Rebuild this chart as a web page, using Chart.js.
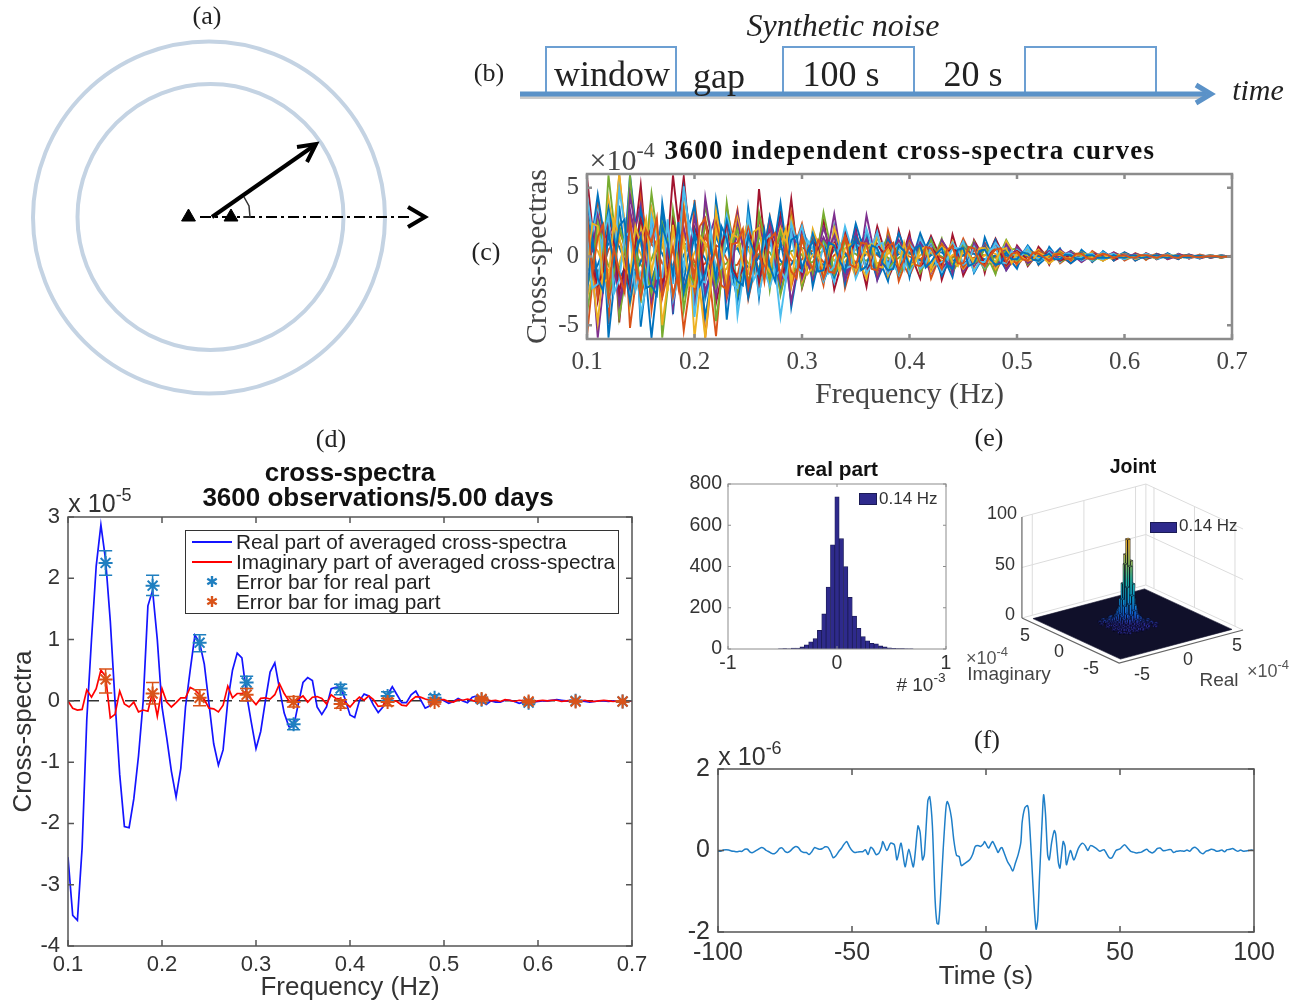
<!DOCTYPE html>
<html>
<head>
<meta charset="utf-8">
<title>Cross-spectra figure</title>
<script src="https://cdn.jsdelivr.net/npm/chart.js@4/dist/chart.umd.min.js"></script>
<style>
  html, body { margin: 0; background: #fff; }
  #page { position: relative; width: 1305px; height: 1005px; overflow: hidden; }
  #page canvas { position: absolute; }
  .t { position: absolute; white-space: nowrap; line-height: 1; color: #222; }
  .t sup { font-size: 0.72em; line-height: 0; position: relative; top: -0.1em; vertical-align: super; }
</style>
</head>
<body>
<div id="page"></div>
<script>
const SANS = '"Liberation Sans", Arial, sans-serif';
const SERIF = '"Liberation Serif", "Times New Roman", serif';

// panel (c): frequency ticks, and curves read at 0.005 Hz steps (x 1e-4)
const cFreq = Array.from({ length: 121 }, (_, i) => 0.1 + i * 0.005);
const cXTicks = [0.1, 0.2, 0.3, 0.4, 0.5, 0.6, 0.7];
const cYTicks = [-5, 0, 5];
const cColors = ["#D95319", "#0072BD", "#EDB120", "#4DBEEE", "#A2142F", "#77AC30", "#7E2F8E", "#D95319", "#0072BD", "#4DBEEE", "#EDB120", "#7E2F8E", "#77AC30", "#0072BD", "#D95319", "#A2142F", "#EDB120", "#0072BD", "#D95319", "#77AC30"];
const curve1 = [5.8,2.1,-3.2,-1.2,2.9,1.4,-4.8,-.6,3.1,1.9,5.2,.8,3.3,-1.1,-2.8,.7,5.9,2.4,5.8,1.6, -3.1,-.4,2.6,1.2,-3.4,-1.5,3.2,.5,-2.9,-1.2,2.4,-.6,4.9,1.3,-1.8,.9,3.1,1.1,4.2,.7, -2.3,-.9,1.8,.8,2.7,.4,-2.4,-1,1.9,.6,2.1,-.5,-2.2,.3,2.2,.9,-1.6,-.7,1.9,.4, 1.7,-.6,-1.6,.5,1.5,.6,-1.7,-.5,1.6,.3,-1.4,-.6,1.2,.5,-1.2,.4,1.3,.5,-.9,-.3, .8,.3,-.7,-.2,.7,.25,-.6,.2,.5,-.2,-.5,-.15,.4,.15,-.4,.1,.3,.12,-.3,-.1, .3,.1,-.3,-.08,.25,.06,-.2,.08,.2,-.05,-.2,.06,.15,.05,-.15,-.04,.1,.03,-.1,.02, .05];
const curve2 = [-5.8,-1.9,4,1.7,-4.9,1.1,5.9,2.2,-5.2,-2.1,4.2,1.5,-3.9,-.9,3.4,-1.2,-2.7,-1.4,-5.4,-2.5, 4.1,.9,-5.9,-2.3,-5.8,-1.4,3.6,1.5,3.4,.6,-3.1,-1.3,2.9,.7,2.8,-.6,-2.6,-1,3.2,1.2, 2.4,.7,-1.9,-.6,-2.1,.4,1.7,.8,-2.3,-.9,1.4,.5,1.8,-.4,-1.5,-.6,1.9,.5,-1.8,-.7, -1.4,-.5,1.5,.4,-1.6,-.6,1.2,.5,-1.3,.3,1.3,.5,-1.1,-.4,1,.4,-1.2,-.3,.8,.3, -.7,-.2,.6,.25,-.6,.2,.6,.2,-.5,-.2,.4,.15,-.4,-.1,.4,.15,-.3,-.1,.3,.1, -.3,-.1,.25,.08,-.25,.06,.2,.07,-.2,-.06,.2,.05,-.15,-.05,.15,.04,-.1,.03,.1,.02, -.05];
const curve3 = [3.9,1.6,4.5,2,-5.9,-2.2,3.7,.4,5.9,2.5,-5.1,-1.7,-5.9,-2.3,3.9,1.2,-4.2,.5,4.9,2.2, 3.8,-.6,-4.4,-2,4.1,1.5,-4.6,-1.1,-3.3,-1.4,3.6,.8,-3,.4,2.9,1.3,3.9,.9,-3.7,-1.4, 2.1,1,-2.2,-.5,-1.8,-.9,2.2,.3,-2,.5,2.4,1.1,1.7,-.3,-1.7,-.8,-1.8,.4,1.7,.7, -1.5,.4,1.7,.7,1.3,-.4,-1.4,-.6,-1.5,.3,1.1,.5,-1.2,-.5,1.4,.4,1.2,-.3,-1,-.4, -.9,.2,.8,.3,-.6,-.25,.7,.2,.6,-.15,-.5,-.2,.5,.15,-.4,-.1,.4,.12,-.3,.1, .3,.1,-.3,-.1,.2,.07,-.2,-.06,.25,.05,-.2,.04,.15,-.05,-.15,.04,.1,.03,-.1,-.02, .05];
const curve4 = [-4.1,-1.5,2.7,-.4,5.9,2.4,-4.4,-2,5.9,1.5,-3.4,.6,4.6,1.8,-5.9,-2.4,3.4,.9,-3.9,-1.2, -2.9,.5,3.7,1.7,-4.7,-1.8,3.9,1,-2.6,-.5,-2.7,-1.2,3.2,1.4,-2.4,.5,-2.8,-1.1,2.7,.6, -2.2,-.8,1.6,.5,3.2,1.3,-1.6,-.4,-1.4,.3,1.6,.8,-1.3,-.5,1.4,.6,1.5,-.3,-1.4,-.5, 1.2,.5,-1.2,-.4,1.2,.3,1.3,-.4,-1.1,-.5,1,.4,1.1,-.3,-1,-.4,-1.3,.3,1.2,.5, .6,.25,-.6,-.2,.5,.2,-.5,.15,-.4,-.2,.4,.15,.3,-.1,-.3,-.12,-.3,.1,.25,.1, -.2,-.08,.2,.06,-.2,-.07,.2,.05,-.15,.04,.15,.06,.1,-.03,.1,.03,-.1,-.02,-.1,.02, 0];
const curve5 = [3.3,-.7,-5.9,-2.4,3.8,1.6,-3.5,-1.9,4.5,2.1,3.8,.5,-3.2,-1.6,3,1.3,-3.7,-.8,3,1.5, -3.6,-1.3,4.3,1.8,3,-.4,-3.1,-1.3,3.1,1.1,-2.5,.6,-2.3,-1,2.4,1.1,2.5,-.4,-3.3,-1.2, 1.9,.7,-1.5,.4,2.1,.9,3.1,.7,-1.7,-.7,1.8,.3,3,1.1,-1.7,-.4,1.4,.6,-1.3,.3, 1.4,.5,1.2,-.4,-1.2,-.5,1.2,.6,-1.2,.3,-1.1,-.5,1,.4,.9,-.3,1,.4,-1,-.4, .7,.3,-.5,-.2,.5,.15,-.4,-.2,.5,.2,.4,-.1,-.4,-.15,.3,.12,-.2,.1,.3,.1, -.2,.05,.2,.08,-.15,-.06,.2,.05,-.2,-.07,.2,.06,-.15,.04,.1,.04,-.1,-.03,.1,.02, 0];
const curve6 = [-3,-1.4,-4.8,-.9,4.2,1.8,6,2.3,-3.6,-1.3,2.4,-.7,3.4,1.6,-5,-2,2.3,1,3.8,.6, -5.9,-2.4,-5.9,-1.8,3.3,1,-2.6,.7,2.8,1.3,2.6,-.5,-2.1,-1.1,-2,.4,2.1,1,2.7,.5, -1.8,-.7,2,.9,-1.7,-.3,2.1,.8,1.4,-.4,-1.5,-.7,-1.6,.3,1.5,.6,-1.4,-.5,1.1,.4, -1,.3,.9,.4,-1.1,-.4,.9,.3,1.1,-.3,-.9,-.4,-.8,.3,.8,.4,-.9,-.3,1.1,.5, -.5,-.2,.5,.2,.5,-.15,-.5,-.2,.4,.15,-.3,.1,.3,.12,.3,-.1,-.3,-.1,-.2,.08, .2,.07,-.2,-.06,.15,-.05,-.15,.05,.15,.04,-.1,-.04,-.1,.03,.1,.03,.1,-.02,-.05,.02, 0];
const curve7 = [4.4,1.8,3.3,-1,-3.4,-1.7,4.9,2.3,-2.8,.7,-4.2,-2.2,2.9,1.2,2.6,-.6,-3.2,-1.5,5.1,1.9, -4.4,-1.1,-3.1,-1.6,-2.6,.8,3,1.4,-4.3,-1.6,2.9,.4,-2.7,-.9,-2.2,-.9,-4.4,-1.7,2.4,1.1, 2.2,.4,1.7,-.5,-1.8,-.8,-1.9,.3,2.2,.9,-1.6,-.6,2,.7,1.8,-.3,-1.2,-.5,-1.3,.4, -1.2,-.4,1.3,.5,.9,-.3,-1.1,-.4,1,.4,1.1,-.2,-1.1,-.4,-.8,.2,1,.5,.8,-.3, .5,.2,.7,-.2,-.4,-.15,.5,.2,-.4,.1,.3,.12,-.3,-.1,-.3,.1,.3,.1,.2,-.08, -.2,-.05,-.15,.06,.2,.07,-.15,-.05,.15,.05,.15,-.04,-.1,-.03,-.1,.03,.1,.03,.1,.02, 0];
const curve8 = [2.4,-.8,-2.1,-1.1,2.2,.9,-2.6,-.7,-2.3,1,2.7,1.1,2.1,-.6,-1.9,-1,2.6,.8,-2.4,-.9, 2.1,1,-1.8,-.5,1.9,.7,2.1,-.7,-1.7,-.9,1.8,.9,-1.9,.5,1.6,.7,-1.6,-.6,1.5,.3, -1.3,.4,1.1,.6,-1.2,-.5,1,.3,-.9,.4,1,.5,-1.1,-.4,.9,.3,.8,-.3,-.8,-.4, .7,.3,-.8,-.3,.7,.2,-.6,.3,.7,.3,-.6,-.2,.6,.2,-.5,.2,.5,.2,-.6,-.2, .4,.15,-.3,-.1,.3,.1,.3,-.1,-.3,-.12,.2,.08,-.2,.06,.2,.08,.15,-.05,-.15,-.05, .1,.04,-.1,.03,-.1,-.04,.1,.03,-.1,.02,.1,.03,-.05,.02,.05,.02,.05,-.02,-.05,.02, 0];
const curve9 = [-2.2,-.9,2.5,1,-2.6,-1.2,2.3,.6,-1.9,.8,-2.4,-1,-2.7,-.4,2.4,1.1,2,-.5,-2.9,-1.3, -2,.6,2.3,.8,-2.2,-1,1.8,.9,2,-.6,-1.7,-.7,1.6,.7,-1.7,.4,1.8,.5,-1.5,-.6, 1.2,.5,-1.2,.3,1.1,.5,-1.3,-.5,1.2,.2,-1,-.4,.9,.4,-1,.3,-.9,-.4,.9,.3, -.9,-.3,.7,.3,-.8,.2,.7,.3,-.6,-.3,.7,.2,-.5,-.2,.6,.3,-.6,.2,.4,.2, -.3,-.1,.4,.15,-.3,.1,.2,.1,.3,-.1,-.2,-.1,.2,.08,-.2,.07,-.15,-.05,.15,.05, -.1,-.04,.1,.03,.1,-.03,-.1,.03,.1,.03,-.1,-.02,.05,.02,-.05,.02,.05,.02,.05,-.02, 0];
const curve10 = [1.9,.5,3,1.3,1.6,-.7,-3.1,-1.5,3.4,1.2,1.7,-.5,-2.4,-1.1,-2.8,.6,1.8,.9,2.1,.3, 2.8,1.2,-2.6,-1.1,-2.9,.5,-2.1,-1,2.4,.8,-2.2,.4,2.1,1,1.9,-.4,-1.9,-.8,1.8,.7, -1.6,-.4,-1.5,.5,1.4,.6,1.5,-.3,-1.3,-.5,1.2,.5,1.3,.2,-1.1,-.4,-1,.4,1.2,.5, -.8,-.3,1,.4,.8,-.2,-.9,-.4,-.8,.3,.7,.3,-.7,-.2,.7,.2,-.7,-.3,.9,.3, .4,-.15,-.4,-.15,-.3,.1,.4,.15,-.3,-.1,.3,.1,.2,-.08,-.2,-.08,.2,.07,-.15,.05, .15,.05,.1,-.03,-.15,-.05,.1,.04,.1,-.03,-.1,-.03,.1,.03,-.05,.02,-.05,-.02,.05,.02, 0];
const curve11 = [-1.7,-.8,-2.9,.7,-3.2,-1.4,1.8,.9,2.8,-.6,-3,-1.2,1.6,.8,-2.1,.5,-2.9,-1.1,1.6,.7, -2.5,-1,1.5,.5,2.4,1,-2.8,-.9,-1.4,.4,2.1,.9,-1.6,-.6,2,.4,1.4,.7,-2.2,-.7, 1.5,.5,1.3,-.3,-1.6,-.6,-1.1,.4,1.5,.5,-1.2,-.3,1.1,.4,-1.2,.2,1,.4,-.9,-.4, 1.1,.3,-.9,-.4,-.9,.3,.9,.3,.8,-.2,-.8,-.3,.6,.3,-.7,.2,.7,.2,-.7,-.3, -.5,.2,.3,.1,.4,.15,-.3,-.1,.3,.1,-.3,.1,-.2,-.08,.2,.08,-.2,.06,.2,.06, -.1,.04,-.1,-.03,.1,.04,-.1,.03,-.1,-.03,.1,.03,-.05,.02,.05,.02,.05,-.02,-.05,.02, 0];
const curve12 = [2.9,1.2,-1.8,.6,3.5,1.5,-1.6,-.9,-3.3,-1.1,3.3,1.4,-1.9,-.4,3.2,.9,-1.5,-.8,-1.8,.5, 1.7,.7,-2.9,-1.2,1.5,.4,2.6,1,1.4,-.5,-3,-1.1,1.5,.8,-1.2,-.5,-2.1,.4,1.9,.8, -1.4,-.5,1.6,.5,1.2,-.3,-1.5,-.6,-1.1,.3,1.4,.6,-1,-.3,-1,-.4,1.2,.5,-1.1,.2, .9,.3,1,.4,-.8,-.3,-.7,.3,.7,.2,-.6,-.2,.5,.2,.8,-.2,-.6,-.3,.6,.2, .3,.1,.3,-.1,-.3,-.1,.3,.1,-.3,.1,.2,.08,.3,-.1,-.2,-.07,.2,.07,-.2,.05, .15,.05,-.1,.04,.1,-.03,.15,.05,-.1,-.03,-.15,.04,.1,.03,.05,-.02,-.05,.02,.05,.02, 0];
const curve13 = [1.2,.9,.4,-.6,-1,-1.4,-.5,.8,1.3,1,.2,-.9,-1.5,-.7,.9,1.2,.6,-.4,-1.1,-.8, .3,.9,1,.4,-.6,-1.1,-.9,.3,.8,1,.5,-.3,-.8,-1,-.4,.5,.9,.7,.2,-.5, -.8,-.6,.1,.6,.7,.3,-.3,-.6,-.4,.2,.5,.6,.2,-.3,-.5,-.3,.2,.5,.3,-.1, -.4,-.4,.1,.4,.3,-.1,-.3,-.3,.1,.3,.3,0,-.2,-.3,.1,.3,.2,-.1,-.2,-.1, .1,.2,.1,-.1,-.1,-.1,.1,.1,.1,0,-.1,-.1,.05,.1,.05,-.05,-.1,0,.05,.05, 0,-.05,-.03,.02,.03,.02,-.02,-.03,0,.02,.02,-.01,-.02,0,.01,.01,0,-.01,0,.01, 0];
const curve14 = [-.8,-1.3,-.6,.4,.9,1.4,.7,-.3,-1,-1.2,-.4,.7,1.1,.9,.2,-.7,-1.2,-.8,.1,.9, 1,.5,-.2,-.8,-.9,-.2,.6,1,.6,-.2,-.8,-.7,0,.7,.9,.4,-.3,-.7,-.6,.1, .6,.6,.1,-.5,-.6,-.1,.5,.6,.2,-.3,-.5,-.2,.3,.5,.2,-.2,-.4,-.2,.2,.4, .3,-.1,-.3,-.3,.1,.3,.3,0,-.3,-.2,.1,.2,.2,-.1,-.2,-.2,.1,.2,.1,-.1, -.1,-.1,.1,.1,.05,-.05,-.1,-.05,.05,.1,.05,-.05,-.05,0,.05,.05,0,-.05,-.03,.02, .03,.02,-.02,-.02,.01,.02,.01,-.01,-.02,0,.01,.01,0,-.01,0,.01,0,-.01,0,.01, 0];
const curve15 = [.4,-.5,-1.1,-.7,.5,1,1.2,.2,-.8,-1,-.3,.6,.9,.4,-.5,-.9,-.6,.3,1,.7, -.4,-.8,-.5,.3,.8,.6,-.2,-.7,-.6,.2,.7,.6,-.1,-.6,-.5,.2,.6,.3,-.3,-.5, -.2,.4,.4,.1,-.4,-.4,.1,.4,.3,-.1,-.4,-.2,.2,.3,.1,-.2,-.3,-.1,.2,.2, 0,-.2,-.2,.1,.2,.1,-.1,-.2,0,.2,.1,-.1,-.1,0,.1,.1,0,-.1,-.1,.05, .1,.05,-.05,-.05,.05,.05,-.02,-.05,0,.05,.03,-.03,-.03,.02,.03,0,-.02,-.02,.01,.02, 0,-.02,-.01,.01,.01,0,-.01,-.01,.01,.01,0,-.01,0,.01,0,-.01,0,.01,0,0, 0];
const curve16 = [-.3,.7,1.5,.6,-.7,-1.2,-.9,.5,1.4,.5,-.6,-1.1,-.2,.9,.8,-.3,-.9,-.3,.8,.3, -.7,-.4,.7,.8,.1,-.7,-.5,.4,.6,.2,-.5,-.7,.2,.6,.3,-.4,-.6,-.1,.4,.5, .1,-.5,-.4,.2,.4,.2,-.3,-.4,0,.3,.2,-.2,-.3,0,.3,.3,-.1,-.3,-.1,.2, .2,0,-.2,-.1,.1,.2,0,-.2,-.1,.1,.1,-.1,-.1,.1,.1,0,-.1,-.1,.05,.1, 0,-.05,-.05,.05,.05,0,-.05,-.02,.03,.03,-.01,-.03,-.01,.02,.02,-.01,-.02,0,.01,.01, 0,-.01,-.01,.01,.01,0,-.01,0,.01,0,-.01,0,0,.01,0,-.01,0,0,0,0, 0];
const curve17 = [3.1,-1.2,1.4,2.3,-2.4,.6,-1.2,-2.6,2.6,-.4,-2.2,1.9,1,2.8,-3,-1.3,.7,-2.2,3.4,.5, -1.4,2.2,2.8,-.7,.6,-2.1,-2.4,.9,1,2,-2.2,-.3,.8,-1.8,1.3,1.7,-1.7,.8,-1.1,-1.6, 1.3,-.2,-.9,1.2,.7,-1.1,-1.2,.2,1.4,-.6,-.8,1,.9,-.9,-1,.2,.7,1,-1.1,-.2, .8,-.6,-.7,.7,.6,-.1,-.9,.5,.7,-.5,-.5,.7,.6,-.4,-.7,.1,.5,.6,-.4,.2, .3,-.2,-.3,.3,.2,-.05,-.3,.15,.2,-.15,-.2,.2,.2,-.1,-.2,.05,.2,.1,-.1,.05, .1,-.05,-.1,.1,.1,0,-.1,.05,.1,-.05,-.1,.05,.05,-.03,-.05,0,.03,.02,-.03,0, 0];
const curve18 = [-2.7,1.3,-1.6,-2.5,1.8,-.5,2.2,2.7,-1.9,.3,1.4,-2.3,-2.1,-2.8,2.2,.9,-1.4,2.5,-2.6,-.8, 1.7,-2.1,-1.2,.8,-1.7,2.2,1.3,-1.1,-1.8,-2.1,1.5,.4,-1.3,1.9,-.7,-1.8,1.1,-.9,1.2,1.5, -.9,.3,1.2,-1.1,-1,1,.8,-.3,-1.1,.7,1.1,-1,-.7,.8,.6,-.5,-1,-.9,.8,.4, -.7,.6,.8,-.8,-.4,.2,.6,-.6,-.9,.5,.6,-.7,-.5,.4,.5,-.2,-.6,-.5,.3,-.2, -.2,.3,.2,-.25,-.3,.05,.2,-.2,-.2,.15,.1,-.15,-.2,.1,.1,-.1,-.1,-.1,.1,-.05, -.1,.05,.1,-.1,-.05,.02,.1,-.05,-.1,.04,.05,-.05,-.05,.03,.05,-.02,-.03,-.02,.03,0, 0];
const curve19 = [-1.3,2.4,2.2,-1.9,-1.6,2.6,1.5,-.8,-1.4,2.2,.9,2.7,-1.2,1.1,1.7,-2.5,2.3,-1.5,1.2,-2.1, -2.2,1.5,.9,-2.2,2,.4,-1.9,1.6,1.4,-.6,-1.2,1.8,2.1,-.4,-1.1,1,.6,2,-2,.9, .6,-1.3,-.8,.3,-1.1,.7,.9,-1.1,.6,.9,-1,-.2,.7,.9,-.7,-.8,.6,-.3,-.7,1, -.6,-.5,.5,.7,-.8,.1,.7,.4,-.4,-.7,.5,.2,-.5,.6,.6,-.4,-.4,.5,.6,-.5, .3,-.1,-.3,-.2,.3,.1,-.2,.2,.2,-.1,-.2,.1,.2,-.15,-.1,.1,.2,-.1,-.1,.1, -.1,0,.1,.05,-.1,.05,.1,-.05,-.05,.05,.05,-.03,-.05,.03,.05,-.02,-.03,.02,.02,-.02, 0];
const curve20 = [1.6,-2.3,-2,1.5,3,-2.7,-1.7,1.4,1.8,-2.5,-1.2,-2.4,2.4,-1.6,-1.5,2.7,-2,1.9,-.9,2.4, 1.1,-1.7,-1.9,2,-1.2,-.8,1.6,-2,-2.3,.5,1.7,-1.7,-1,1.1,1.6,-1.4,-1,-1.7,1.8,-.8, -1.1,1.2,.6,-.9,.8,-1.2,-.7,.9,-.9,-.7,.9,.7,-1.2,-.6,.8,1,-.8,.6,.9,-.9, .9,.4,-.9,-.5,.7,-.6,-.4,-.2,.6,.6,-.6,-.3,.7,-.4,-.4,.5,.7,-.4,-.5,.4, -.2,.15,.4,.1,-.2,-.1,.3,-.15,-.2,.2,.2,-.05,-.1,.15,.2,-.1,-.2,.1,.2,-.1, .1,.05,-.1,-.05,.1,-.05,-.05,.05,.1,-.05,-.05,.03,.05,-.03,-.03,.02,.03,-.02,-.02,.02, 0];
const cCurves = [curve17, curve18, curve19, curve20, curve8, curve9, curve10, curve11, curve12, curve7, curve6, curve5, curve4, curve3, curve2, curve1, curve13, curve14, curve15, curve16];

// panel (d): averaged cross-spectra at 0.005 Hz steps (x 1e-5)
const dFreq = Array.from({ length: 121 }, (_, i) => 0.1 + i * 0.005);
const dXTicks = [0.1, 0.2, 0.3, 0.4, 0.5, 0.6, 0.7];
const dYTicks = [-4, -3, -2, -1, 0, 1, 2, 3];
const realPart = [-2.55,-3.5,-3.58,-2.4,-.3,1,2.2,2.87,2.3,1.3,0,-1.2,-2.05,-2.07,-1.6,-.9,0,1.55,1.8,1, -.1,-.6,-1.15,-1.57,-1.1,-.1,.5,1.07,.95,.6,-.05,-.7,-1.05,-.8,0,.5,.78,.7,.1,-.35, -.78,-.5,0,.47,.62,.2,-.2,-.42,-.42,-.05,.3,.38,.33,-.1,-.22,-.1,.2,.22,.22,.02, -.23,-.27,0,.11,.08,-.07,-.19,-.1,.1,.23,.1,-.03,-.03,.1,.16,.02,-.12,-.08,.08,.04, 0,-.04,-.01,.04,0,-.03,.06,.08,-.01,-.06,0,-.02,-.02,.01,.01,-.01,-.04,-.02,-.05,-.02, -.01,0,0,.01,.02,.01,0,-.01,-.01,0,-.01,-.02,-.01,0,0,-.01,0,-.01,0,0, 0];
const imagPart = [0,-.12,-.15,-.14,.18,.06,.2,.5,.4,-.28,-.22,.16,-.05,-.1,-.02,-.18,-.15,-.17,.15,-.25, .2,-.02,-.1,-.03,.05,.05,.22,.18,.1,.02,-.12,-.13,-.18,-.07,.24,.05,.12,.12,.15,.03, -.06,.04,.05,.03,.1,.28,.12,0,-.02,.03,.08,-.02,.06,.07,.04,-.05,.1,.04,.03,-.03, -.1,-.01,.06,.01,.08,.02,-.09,-.08,.04,.01,-.01,-.07,-.08,.01,.07,.06,.03,.01,.04,.02, .02,-.01,-.02,.02,.01,.03,.01,-.02,.01,.02,0,.01,-.01,.02,.01,-.01,.01,0,-.02,-.01, 0,.01,0,.01,.01,-.01,0,.01,-.01,0,.01,-.01,-.01,0,.01,0,-.01,0,.01,0, 0];
const barFreq = [0.14, 0.19, 0.24, 0.29, 0.34, 0.39, 0.44, 0.49, 0.54, 0.59, 0.64, 0.69];
const realMean = [2.25, 1.88, .95, .3, -.38, .2, .08, .05, .02, -.03, 0, -.01];
const realLow = [2.05, 1.72, .8, .2, -.47, .1, 0, 0, -.03, -.06, -.01, -.02];
const realHigh = [2.45, 2.05, 1.08, .4, -.3, .27, .15, .1, .06, 0, .01, 0];
const imagMean = [.35, .12, .05, .1, -.02, -.05, -.02, -.02, .03, -.01, -.01, -.01];
const imagLow = [.13, -.05, -.08, 0, -.1, -.12, -.08, -.05, 0, -.03, -.02, -.02];
const imagHigh = [.52, .3, .18, .2, .07, .02, .04, .02, .06, .01, 0, 0];

// panel (e) left: histogram at 0.14 Hz (x 1e-3)
const histCenters = [-.52,-.48,-.44,-.4,-.36,-.32,-.28,-.24,-.2,-.16,-.12,-.08,-.04,0,.04,.08,.12,.16,.2,.24,.28,.32,.36,.4,.44,.48,.52,.56,.6,.64,.68];
const histCounts = [1,2,1,4,5,10,20,35,50,90,170,300,505,738,535,400,250,160,100,60,40,28,25,15,10,6,3,2,2,1,1];
const histXTicks = [-1, 0, 1];
const histYTicks = [0, 200, 400, 600, 800];

// panel (e) right: joint 2D histogram (x 1e-4), rows by imaginary, columns by real
const jointRe = [-2,-1.75,-1.5,-1.25,-1,-.75,-.5,-.25,0,.25,.5,.75,1,1.25,1.5];
const jointIm = [-1.5,-1.25,-1,-.75,-.5,-.25,0,.25,.5,.75,1,1.25,1.5,1.75,2];
const jointCounts = [
  [0,0,2,0,0,1,0,3,0,1,0,0,2,0,0],
  [0,1,0,0,2,0,3,1,2,0,3,0,0,1,0],
  [2,0,0,3,1,4,2,4,3,5,1,2,0,0,1],
  [0,0,3,2,4,3,6,8,5,3,4,1,0,2,0],
  [0,1,0,4,5,9,12,16,12,6,3,2,1,0,0],
  [1,0,2,3,8,13,22,30,20,10,7,2,0,1,0],
  [0,2,1,5,10,20,38,58,40,15,8,4,2,0,1],
  [0,0,3,6,12,26,60,84,62,24,11,5,1,0,0],
  [1,0,2,4,9,18,40,68,38,16,9,3,2,0,0],
  [0,2,0,3,7,13,24,32,22,11,6,4,0,1,0],
  [0,0,1,2,5,8,13,17,11,7,5,1,2,0,0],
  [1,0,0,3,2,4,7,6,5,3,2,3,0,0,1],
  [0,0,2,0,3,2,3,4,2,3,1,0,1,0,0],
  [0,1,0,0,1,3,0,2,1,0,2,0,0,1,0],
  [0,0,0,1,0,0,2,0,0,1,0,0,1,0,0],
];

// panel (f): stacked trace (x 1e-6)
const fTime = [-100,-99,-98,-97,-96,-95,-94,-93,-92,-91,-90,-89,-88,-87,-86,-85,-84,-83,-82,-81,-80,-79,-78,-77,-76,-75,-74,-73,-72,-71,-70,-69,-68,-67,-66,-65,-64,-63,-62,-61,-60,-59,-58,-57,-56,-55,-54,-53,-52,-51,-50,-49,-48,-47,-46,-45,-44,-43,-42,-41,-40,-39,-38.5,-37,-35.6,-34.2,-33.2,-31.7,-30.2,-28.8,-27.1,-25.4,-24.6,-23.7,-23,-21.7,-21,-20,-19,-18.3,-17.7,-17,-16,-15,-14.5,-13.8,-12.9,-12,-11,-10,-9.2,-8,-6,-5,-4,-3,-2,-1,-.5,.5,1,2,2.5,4,4.5,5.5,6,7,8,9,10,11,12,13,13.5,14.5,15.5,16,17,18,18.7,19.3,20,21,21.5,22.2,23,23.6,24.5,25.5,26,27,27.6,28.8,29.5,30,31.5,32.8,34.5,36,37,38,39,41,42.5,44,46,47,48.5,50,51.7,53,54,55,56,57,58,59,60,61,62,63,64,65,66,67,68,69,70,71,72,73,74,75,76,77,78,79,80,81,82,83,84,85,86,87,88,89,90,91,92,93,94,95,96,97,98,99,100];
const fValue = [-.02,-.02,.01,.02,.01,-.01,-.02,-.03,-.02,-.02,.03,.03,-.04,-.05,-.01,.03,.07,.06,0,-.03,-.07,-.08,-.03,.05,.06,-.02,-.05,-.01,.06,.1,.07,-.02,-.05,-.05,-.1,-.03,.07,.05,.03,.05,.09,.08,-.03,-.18,-.13,-.03,.05,.15,.22,.1,0,-.05,-.04,-.03,-.03,.02,-.1,.08,.02,-.1,-.07,.08,.22,0,.18,.14,-.23,.18,-.4,.03,-.4,.6,.45,-.23,-.1,1.22,1.32,.6,-1.2,-1.78,-1.8,-1.2,0,1,1.2,1.1,.8,.25,-.12,-.15,-.37,-.32,-.22,-.1,.1,.12,.1,.16,.22,.1,.06,.18,.22,.02,-.05,.06,.07,-.1,-.27,-.38,-.5,-.3,-.1,.2,.7,1.05,1.1,.9,-.2,-1.4,-1.93,-1.7,-.6,.8,1.37,.9,-.1,-.23,.2,.49,.4,-.3,-.43,.22,.1,-.35,0,-.23,.06,.18,.12,0,.12,.06,-.02,.02,-.18,-.18,0,.04,.14,.05,-.02,-.04,-.06,-.05,-.04,0,.03,-.03,-.06,-.02,.05,.06,0,0,.02,.02,-.05,-.02,-.01,-.01,-.02,.01,-.02,.05,.08,.03,-.05,-.08,-.02,0,.03,.02,-.02,-.01,.01,-.03,.02,.03,.05,.01,-.02,.01,-.02,-.01,0,.01,0];
const fXTicks = [-100, -50, 0, 50, 100];
const fYTicks = [-2, 0, 2];

// schematic (a) and (b), in page units
const outerRing = [{ x: 209, y: 217.5, r: 176 }];
const innerRing = [{ x: 210.5, y: 217, r: 133 }];
const stations = [{ x: 188.5, y: 217 }, { x: 231, y: 217 }];
const baseline = [[200, 217], [410, 217]];
const baseHead = [[408, 207], [425, 217], [408, 227]];
const rayLine = [[212, 217], [315, 145]];
const rayHead = [[297, 147], [316, 144], [307, 162]];
const angleArc = [[244, 197], [249, 206], [250, 217], [243, 217]];
const timeAxis = [[520, 94], [1206, 94]];
const timeHead = [[1196, 85], [1211, 94], [1196, 103]];
const windows = [[546, 676], [783, 914], [1025, 1156]];
const windowTop = 47;

const page = document.querySelector("#page");

const addText = (html, x, y, style = {}, anchor = "center") => {
  const el = document.createElement("div");
  el.className = "t";
  el.innerHTML = html;
  el.style.left = x + "px";
  el.style.top = y + "px";
  el.style.transform = anchor === "left" ? "translateY(-50%)" : "translate(-50%,-50%)";
  Object.assign(el.style, style);
  page.appendChild(el);
  return el;
};

const addCanvas = (left, top, width, height) => {
  const canvas = document.createElement("canvas");
  canvas.width = width;
  canvas.height = height;
  canvas.style.left = left + "px";
  canvas.style.top = top + "px";
  page.appendChild(canvas);
  return canvas;
};

// box with inward ticks on all four sides, matlab style
const framePlugin = (color, width, tick) => ({
  id: "frame",
  afterDatasetsDraw(chart) {
    const { ctx, chartArea: a, scales } = chart;
    ctx.save();
    ctx.strokeStyle = color;
    ctx.lineWidth = width;
    ctx.strokeRect(a.left, a.top, a.right - a.left, a.bottom - a.top);
    ctx.beginPath();
    scales.x.ticks.forEach((t) => {
      const px = scales.x.getPixelForValue(t.value);
      ctx.moveTo(px, a.top);
      ctx.lineTo(px, a.top + tick);
      ctx.moveTo(px, a.bottom);
      ctx.lineTo(px, a.bottom - tick);
    });
    scales.y.ticks.forEach((t) => {
      const py = scales.y.getPixelForValue(t.value);
      ctx.moveTo(a.left, py);
      ctx.lineTo(a.left + tick, py);
      ctx.moveTo(a.right, py);
      ctx.lineTo(a.right - tick, py);
    });
    ctx.stroke();
    ctx.restore();
  },
});

// makes a panel whose plot area lands exactly on box
const addPanel = (box, pad, spec) => {
  const canvas = addCanvas(box.left - pad.l, box.top - pad.t, box.width + pad.l + pad.r, box.height + pad.t + pad.b);
  const axisCommon = (ticks, title, side, range) => ({
    type: "linear",
    offset: false,
    min: range ? range[0] : ticks[0],
    max: range ? range[1] : ticks[ticks.length - 1],
    afterBuildTicks: (scale) => {
      scale.ticks = ticks.map((value) => ({ value }));
    },
    afterFit: (scale) => {
      if (side === "x") scale.height = pad.b;
      else scale.width = pad.l;
      // no room for overhanging labels, the plot box is fixed
      scale.paddingTop = scale.paddingBottom = scale.paddingLeft = scale.paddingRight = 0;
    },
    border: { display: false },
    grid: { display: false, drawTicks: false },
    ticks: {
      autoSkip: false,
      maxRotation: 0,
      color: spec.color,
      font: { family: spec.family, size: spec.tickSize },
      padding: side === "x" ? spec.padX : spec.padY,
      callback: spec[side + "Format"],
    },
    title: title
      ? { display: true, text: title, color: spec.color, padding: 0, font: { family: spec.family, size: spec.titleSize } }
      : { display: false },
  });
  return new Chart(canvas, {
    type: spec.type || "scatter",
    data: { datasets: spec.datasets },
    options: {
      responsive: false,
      animation: false,
      events: [],
      devicePixelRatio: 1,
      layout: { autoPadding: false, padding: { top: pad.t, right: pad.r } },
      plugins: { legend: { display: false }, tooltip: { enabled: false } },
      scales: {
        x: axisCommon(spec.xTicks, spec.xTitle, "x"),
        y: axisCommon(spec.yTicks, spec.yTitle, "y", spec.yRange),
      },
    },
    plugins: [framePlugin(spec.frameColor, spec.frameWidth, spec.tick)],
  });
};

const pairs = (xs, ys) => ys.map((y, i) => ({ x: xs[i], y }));
const toPoints = (list) => list.map(([x, y]) => ({ x, y }));

const pathSet = (list, color, width, extra = {}) => ({
  type: "scatter",
  data: toPoints(list),
  showLine: true,
  borderColor: color,
  borderWidth: width,
  pointRadius: 0,
  fill: false,
  ...extra,
});

// error bars as one gappy line: stem plus two caps per point
const errorSegments = (xs, low, high, cap) =>
  xs.flatMap((x, i) => [
    { x: x - cap, y: low[i] }, { x: x + cap, y: low[i] }, { x: NaN, y: NaN },
    { x: x - cap, y: high[i] }, { x: x + cap, y: high[i] }, { x: NaN, y: NaN },
    { x, y: low[i] }, { x, y: high[i] }, { x: NaN, y: NaN },
  ]);

// schematic a + b
const schemeCanvas = addCanvas(0, 0, 1305, 1005);
const schemeSets = [
  pathSet(baseHead, "#000", 4),
  pathSet(rayHead, "#000", 4),
  pathSet(rayLine, "#000", 4),
  pathSet(angleArc, "#333", 1.5),
  pathSet(baseline, "#000", 2, { borderDash: [11, 4, 3, 4] }),
  { type: "scatter", data: stations, pointStyle: "triangle", pointRadius: 8, backgroundColor: "#000", borderColor: "#000", borderWidth: 1 },
  { type: "bubble", data: innerRing, backgroundColor: "rgba(0,0,0,0)", borderColor: "#c4d3e3", borderWidth: 4 },
  { type: "bubble", data: outerRing, backgroundColor: "rgba(0,0,0,0)", borderColor: "#c4d3e3", borderWidth: 4 },
  pathSet(timeHead, "#5b92c8", 5),
  pathSet(timeAxis, "#5b92c8", 5),
  pathSet(timeAxis.map(([x, y]) => [x, y + 3.5]), "rgba(70,70,70,0.28)", 3),
  ...windows.map(([a, b]) =>
    pathSet([[a, 94], [a, windowTop], [b, windowTop], [b, 94]], "#6c9fd2", 2)),
];
new Chart(schemeCanvas, {
  type: "scatter",
  data: { datasets: schemeSets },
  options: {
    responsive: false,
    animation: false,
    events: [],
    layout: { autoPadding: false },
    plugins: { legend: { display: false }, tooltip: { enabled: false } },
    scales: {
      x: { type: "linear", display: false, min: 0, max: 1305 },
      y: { type: "linear", display: false, min: 0, max: 1005, reverse: true },
    },
  },
});

// panel c
addPanel(
  { left: 587, top: 174, width: 645, height: 165 },
  { l: 67, t: 16, r: 24, b: 74 },
  {
    family: SERIF, color: "#444", tickSize: 25, titleSize: 30, padX: 8, padY: 8,
    frameColor: "#8c8c8c", frameWidth: 2.5, tick: 5,
    xTicks: cXTicks, yTicks: cYTicks, yRange: [-6, 6],
    xTitle: "Frequency (Hz)", yTitle: "Cross-spectras",
    xFormat: (v) => v.toFixed(1),
    yFormat: (v) => String(v),
    datasets: cCurves.map((curve, i) => ({
      data: pairs(cFreq, curve),
      showLine: true,
      borderColor: cColors[i],
      borderWidth: 1.9,
      pointRadius: 0,
    })),
  }
);

// panel d
const starSet = (xs, ys, color) => ({
  data: pairs(xs, ys), pointStyle: "star", pointRadius: 7, borderColor: color, borderWidth: 2, backgroundColor: color, showLine: false,
});
const errorSet = (xs, low, high, color) => ({
  data: errorSegments(xs, low, high, 0.007), showLine: true, spanGaps: false, pointRadius: 0, borderColor: color, borderWidth: 1.5,
});
addPanel(
  { left: 68, top: 517, width: 564, height: 429 },
  { l: 60, t: 16, r: 20, b: 57 },
  {
    family: SANS, color: "#333", tickSize: 22, titleSize: 26, padX: 6, padY: 8,
    frameColor: "#555", frameWidth: 1.5, tick: 6,
    xTicks: dXTicks, yTicks: dYTicks,
    xTitle: "Frequency (Hz)", yTitle: "Cross-spectra",
    xFormat: (v) => v.toFixed(1),
    yFormat: (v) => String(v),
    datasets: [
      starSet(barFreq, imagMean, "#D95319"),
      errorSet(barFreq, imagLow, imagHigh, "#D95319"),
      starSet(barFreq, realMean, "#1f7fc0"),
      errorSet(barFreq, realLow, realHigh, "#1f7fc0"),
      { data: pairs(dFreq, imagPart), showLine: true, pointRadius: 0, borderColor: "#ff0000", borderWidth: 1.7 },
      { data: pairs(dFreq, realPart), showLine: true, pointRadius: 0, borderColor: "#1414ff", borderWidth: 1.7 },
      { data: [{ x: 0.1, y: 0 }, { x: 0.7, y: 0 }], showLine: true, pointRadius: 0, borderColor: "#333", borderWidth: 1.5, borderDash: [12, 7] },
    ],
  }
);

// panel e, histogram
addPanel(
  { left: 728, top: 484, width: 218, height: 165 },
  { l: 50, t: 12, r: 10, b: 30 },
  {
    type: "bar", family: SANS, color: "#333", tickSize: 19.5, padX: 3, padY: 6,
    frameColor: "#8c8c8c", frameWidth: 1, tick: 3,
    xTicks: histXTicks, yTicks: histYTicks,
    xFormat: (v) => String(v),
    yFormat: (v) => String(v),
    datasets: [{
      data: pairs(histCenters, histCounts),
      backgroundColor: "#2e2a8c",
      borderColor: "#1b1b55",
      borderWidth: 0.8,
      barPercentage: 1,
      categoryPercentage: 1,
    }],
  }
);

// panel e, joint histogram: project (real, imag, count) on the page
const project = (re, im, z) => [
  1132.5 + re * 10.33 - im * 8.1,
  624 - re * 2.75 - im * 3.75 - z * 1.01,
];
const jointCanvas = addCanvas(1000, 470, 300, 230);
const jointFill = jointCanvas.getContext("2d").createLinearGradient(0, 154, 0, 68);
[[0, "#2a2a90"], [0.12, "#1266d8"], [0.3, "#0d9cd0"], [0.5, "#1fb3a4"], [0.7, "#8cbc5e"], [0.9, "#dcb03a"], [1, "#e8b020"]]
  .forEach(([stop, color]) => jointFill.addColorStop(stop, color));
const polySet = (corners, fillColor, edge = "rgba(10,10,30,0.75)") => ({
  type: "scatter",
  data: toPoints([...corners, corners[0]]),
  showLine: true,
  fill: "shape",
  backgroundColor: fillColor,
  borderColor: edge,
  borderWidth: 0.6,
  pointRadius: 0,
});
const half = 0.125;
const columns = [];
jointCounts.forEach((row, j) => {
  row.forEach((count, i) => {
    if (count) columns.push({ re: jointRe[i], im: jointIm[j], count });
  });
});
columns.sort((a, b) => a.re + a.im - (b.re + b.im));
const columnSets = columns.flatMap(({ re, im, count }) => {
  const p = (dr, di, z) => project(re + dr * half, im + di * half, z);
  return [
    polySet([p(-1, -1, count), p(1, -1, count), p(1, 1, count), p(-1, 1, count)], jointFill),
    polySet([p(-1, -1, 0), p(1, -1, 0), p(1, -1, count), p(-1, -1, count)], jointFill),
    polySet([p(-1, -1, 0), p(-1, 1, 0), p(-1, 1, count), p(-1, -1, count)], jointFill),
  ];
});
const floorR = 5.4;
const wallGray = "#dcdcdc";
const jointSets = [
  ...columnSets,
  polySet([project(-floorR, floorR, 0), project(-floorR, -floorR, 0), project(floorR, -floorR, 0), project(floorR, floorR, 0)], "#10102a", "#10102a"),
  pathSet([project(-6, 6, 0), project(-6, 6, 100)], "#666", 1.2),
  pathSet([project(-6, 6, 0), project(-6, -6, 0), project(6, -6, 0)], "#666", 1.2),
  pathSet([project(-6, 6, 100), project(6, 6, 100), project(6, -6, 100)], wallGray, 1),
  pathSet([project(-6, 6, 50), project(6, 6, 50), project(6, -6, 50)], wallGray, 1),
  pathSet([project(-6, 6, 0), project(6, 6, 0), project(6, -6, 0)], wallGray, 1),
  pathSet([project(6, 6, 0), project(6, 6, 100)], wallGray, 1),
  ...[-5, 0, 5].map((v) => pathSet([project(v, 6, 0), project(v, 6, 100)], wallGray, 1)),
  ...[-5, 0, 5].map((v) => pathSet([project(6, v, 0), project(6, v, 100)], wallGray, 1)),
];
new Chart(jointCanvas, {
  type: "scatter",
  data: { datasets: jointSets },
  options: {
    responsive: false,
    animation: false,
    events: [],
    layout: { autoPadding: false },
    plugins: { legend: { display: false }, tooltip: { enabled: false }, filler: { propagate: false } },
    scales: {
      x: { type: "linear", display: false, min: 1000, max: 1300 },
      y: { type: "linear", display: false, min: 470, max: 700, reverse: true },
    },
  },
});

// panel f
addPanel(
  { left: 718, top: 769, width: 536, height: 163 },
  { l: 40, t: 16, r: 30, b: 60 },
  {
    family: SANS, color: "#333", tickSize: 25, titleSize: 26, padX: 6, padY: 8,
    frameColor: "#555", frameWidth: 1.5, tick: 6,
    xTicks: fXTicks, yTicks: fYTicks,
    xTitle: "Time (s)",
    xFormat: (v) => String(v),
    yFormat: (v) => String(v),
    datasets: [{ data: pairs(fTime, fValue), showLine: true, pointRadius: 0, tension: 0.25, borderColor: "#1f7fc8", borderWidth: 1.5 }],
  }
);

// panel letters and schematic labels
const serif = { fontFamily: SERIF, color: "#222" };
const sans = { fontFamily: SANS, color: "#333" };
addText("(a)", 207, 16, { ...serif, fontSize: "26px" });
addText("(b)", 489, 73, { ...serif, fontSize: "26px" });
addText("(c)", 486, 252, { ...serif, fontSize: "26px" });
addText("(d)", 331, 439, { ...serif, fontSize: "26px" });
addText("(e)", 989, 438, { ...serif, fontSize: "26px" });
addText("(f)", 987, 740, { ...serif, fontSize: "26px" });
addText("Synthetic noise", 843, 25, { ...serif, fontSize: "32px", fontStyle: "italic" });
addText("window", 612, 74, { ...serif, fontSize: "36px" });
addText("gap", 719, 76, { ...serif, fontSize: "36px" });
addText("100 s", 841, 74, { ...serif, fontSize: "36px" });
addText("20 s", 973, 74, { ...serif, fontSize: "36px" });
addText("time", 1258, 90, { ...serif, fontSize: "30px", fontStyle: "italic" });

// panel titles
addText("3600 independent cross-spectra curves", 910, 150, { ...serif, color: "#111", fontSize: "27px", fontWeight: "bold", letterSpacing: "1.3px" });
addText("×10<sup>-4</sup>", 622, 160, { ...serif, color: "#444", fontSize: "30px" });
addText("cross-spectra", 350, 472, { ...sans, color: "#111", fontSize: "26px", fontWeight: "bold" });
addText("3600 observations/5.00 days", 378, 497, { ...sans, color: "#111", fontSize: "26px", fontWeight: "bold" });
addText("x 10<sup>-5</sup>", 100, 503, { ...sans, fontSize: "25px" });
addText("real part", 837, 469, { ...sans, color: "#111", fontSize: "20.8px", fontWeight: "bold" });
addText("# 10<sup>-3</sup>", 921, 684, { ...sans, fontSize: "19px" });
addText("Joint", 1133, 467, { ...sans, color: "#111", fontSize: "19.5px", fontWeight: "bold" });
addText("x 10<sup>-6</sup>", 750, 756, { ...sans, fontSize: "25px" });

// legend of panel d, html so it can sit at a fixed spot
const addBox = (left, top, width, height, style) => {
  const el = document.createElement("div");
  el.style.position = "absolute";
  el.style.left = left + "px";
  el.style.top = top + "px";
  el.style.width = width + "px";
  el.style.height = height + "px";
  el.style.boxSizing = "border-box";
  Object.assign(el.style, style);
  page.appendChild(el);
  return el;
};
addBox(185, 530, 434, 84, { border: "1.5px solid #333", background: "#fff" });
addBox(192, 541, 40, 2, { background: "#1414ff" });
addBox(192, 561, 40, 2, { background: "#ff0000" });
const legendLabels = ["Real part of averaged cross-spectra", "Imaginary part of averaged cross-spectra", "Error bar for real part", "Error bar for imag part"];
legendLabels.forEach((label, i) => addText(label, 236, 542 + i * 20, { ...sans, color: "#222", fontSize: "20.8px" }, "left"));
addText("✱", 212, 582, { fontFamily: '"DejaVu Sans"', color: "#1f7fc0", fontSize: "15px" });
addText("✱", 212, 602, { fontFamily: '"DejaVu Sans"', color: "#D95319", fontSize: "15px" });

// legends of panel e
addBox(859, 493, 18, 12, { background: "#2e2a8c", border: "1px solid #1b1b55" });
addText("0.14 Hz", 879, 498, { ...sans, fontSize: "17px" }, "left");
addBox(1150, 522, 27, 11, { background: "#2e2a8c", border: "1px solid #1b1b55" });
addText("0.14 Hz", 1179, 525, { ...sans, fontSize: "17px" }, "left");

// tick and axis labels of the 3D panel
const jointLabels = [["100", 1002, 513], ["50", 1005, 564], ["0", 1010, 614], ["5", 1025, 635], ["0", 1059, 651], ["-5", 1091, 668], ["-5", 1142, 674], ["0", 1188, 659], ["5", 1237, 645]];
jointLabels.forEach(([label, x, y]) => addText(label, x, y, { ...sans, fontSize: "18px" }));
addText("×10<sup>-4</sup>", 987, 658, { ...sans, color: "#555", fontSize: "18px" });
addText("Imaginary", 1009, 673, { ...sans, color: "#444", fontSize: "19px" });
addText("Real", 1219, 679, { ...sans, color: "#444", fontSize: "19px" });
addText("×10<sup>-4</sup>", 1268, 671, { ...sans, color: "#555", fontSize: "18px" });
</script>
</body>
</html>
